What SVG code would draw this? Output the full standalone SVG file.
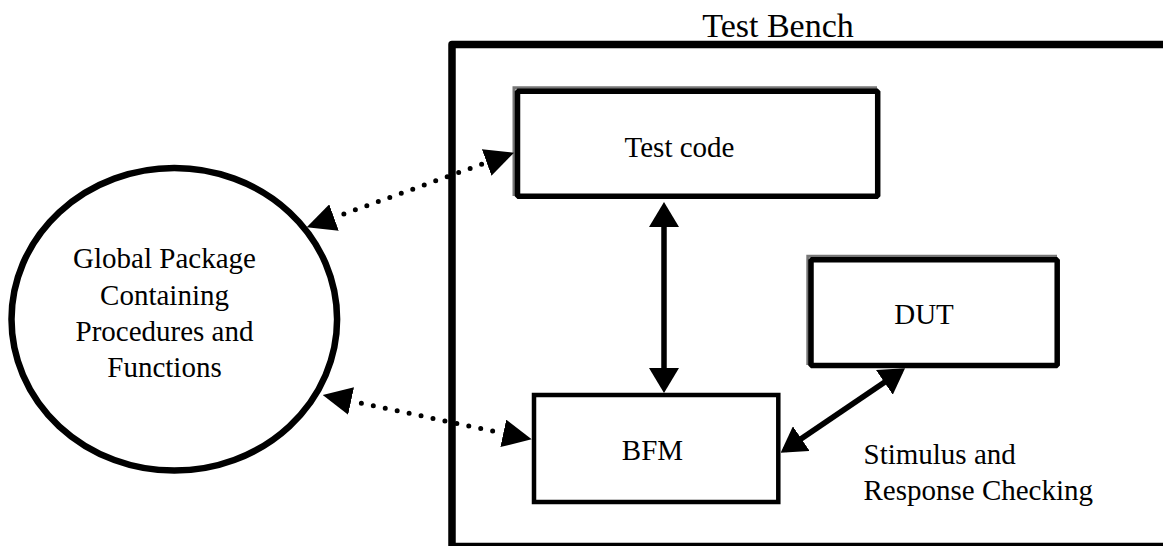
<svg xmlns="http://www.w3.org/2000/svg" width="1163" height="546" viewBox="0 0 1163 546">
<style>
text{font-family:"Liberation Serif","Times New Roman",serif;fill:#000}
.lbl{font-size:29px;text-anchor:middle}
.shadow{fill:none;stroke:#777;stroke-width:3}
.box{fill:none;stroke:#000;stroke-width:5.5;stroke-linejoin:bevel}
.solid{fill:none;stroke:#000;stroke-width:5.5;marker-start:url(#sh);marker-end:url(#sh)}
.dotted{fill:none;stroke:#000;stroke-width:5;stroke-linecap:round;stroke-dasharray:0 12.2;stroke-dashoffset:-10.5;marker-start:url(#dh);marker-end:url(#dh)}
</style>
<defs>
<marker id="sh" viewBox="0 0 25 30" refX="20" refY="15" markerWidth="25" markerHeight="30" markerUnits="userSpaceOnUse" orient="auto-start-reverse"><path d="M0,0 L25,15 L0,30 z" fill="#000"/></marker>
<marker id="dh" viewBox="0 0 29 28" refX="0" refY="14" markerWidth="29" markerHeight="28" markerUnits="userSpaceOnUse" orient="auto-start-reverse"><path d="M0,0 L29,14 L0,28 z" fill="#000"/></marker>
</defs>
<rect x="0" y="0" width="1163" height="546" fill="#fff"/>
<g id="testbench">
<rect x="452" y="44.5" width="720" height="502" fill="none" stroke="#000" stroke-width="7.5" stroke-linejoin="round"/>
<text x="778" y="36.5" font-size="34" text-anchor="middle">Test Bench</text>
</g>
<g id="global-package">
<ellipse cx="174.3" cy="319.3" rx="162.8" ry="151.3" fill="none" stroke="#000" stroke-width="6.5"/>
<text class="lbl" x="164.5" y="267.7">Global Package</text>
<text class="lbl" x="164.5" y="305">Containing</text>
<text class="lbl" x="164.5" y="340.7">Procedures and</text>
<text class="lbl" x="164.5" y="376.7">Functions</text>
</g>
<g id="test-code">
<path class="shadow" d="M514,196 L514,87.8 L877,87.8"/>
<rect class="box" x="517.5" y="91.3" width="360.2" height="105"/>
<text class="lbl" x="679.5" y="156.7">Test code</text>
</g>
<g id="dut">
<path class="shadow" d="M807.8,365 L807.8,256.2 L1057,256.2"/>
<rect class="box" x="811" y="259.8" width="246.2" height="105.7"/>
<text class="lbl" x="924" y="323.8">DUT</text>
</g>
<g id="bfm">
<rect x="534" y="395" width="244.3" height="107" fill="none" stroke="#000" stroke-width="4.5"/>
<text class="lbl" x="652.5" y="459.6">BFM</text>
</g>
<g id="stimulus-label">
<text x="863.5" y="464" font-size="29">Stimulus and</text>
<text x="863.5" y="500" font-size="29">Response Checking</text>
</g>
<g id="connectors">
<line class="solid" x1="664" y1="207" x2="664" y2="388"/>
<line class="solid" x1="784.8" y1="449.9" x2="900.9" y2="371.1"/>
<line class="dotted" x1="334" y1="217.5" x2="486.7" y2="162.5"/>
<line class="dotted" x1="351.1" y1="401" x2="503.3" y2="433.3"/>
</g>
</svg>
